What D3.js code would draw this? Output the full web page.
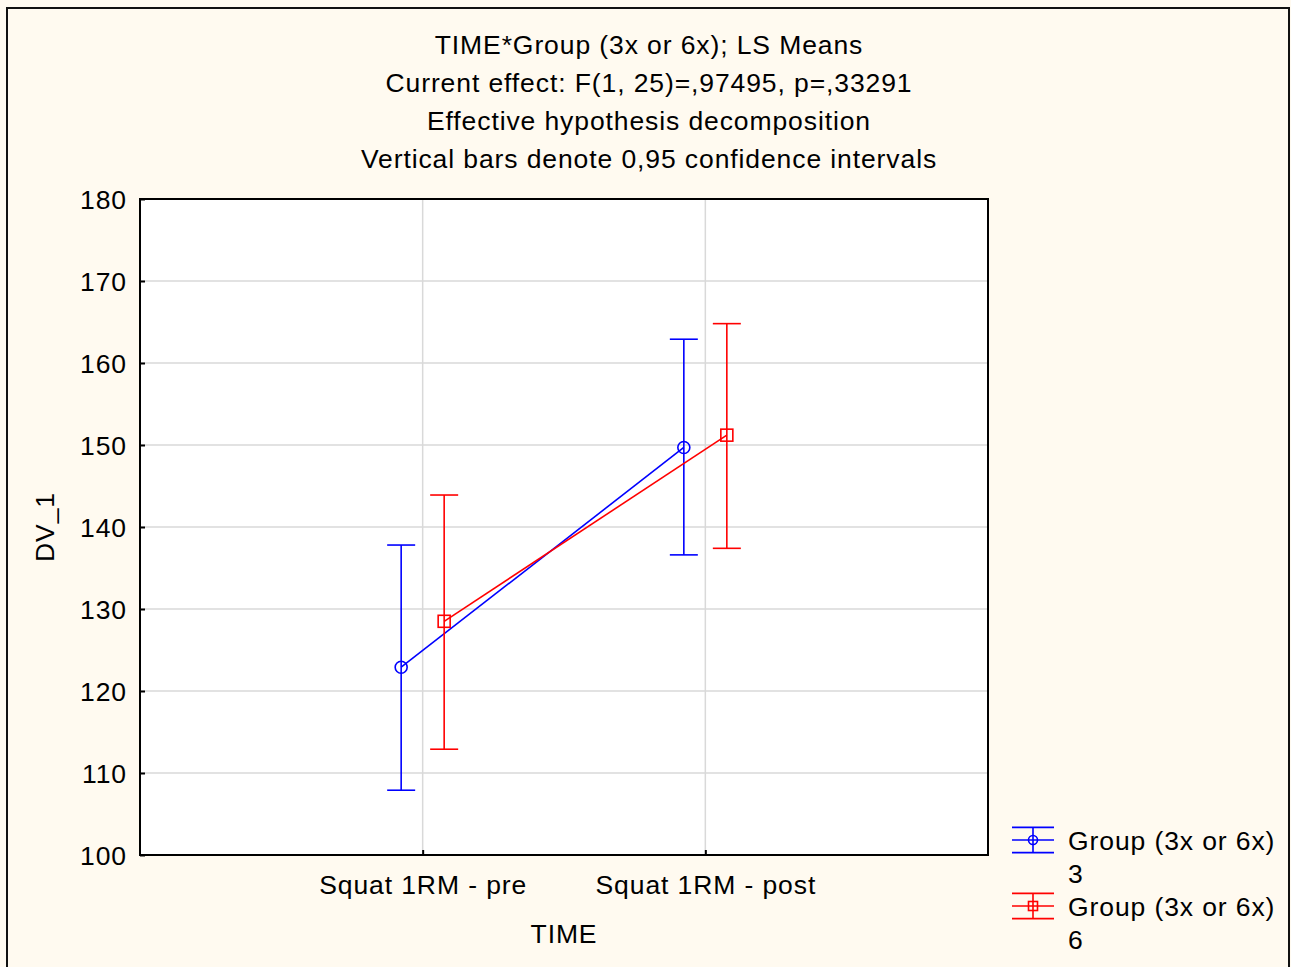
<!DOCTYPE html>
<html>
<head>
<meta charset="utf-8">
<script src="https://cdn.jsdelivr.net/npm/d3@7"></script>
<style>
  html, body { margin: 0; padding: 0; background: #fffaf0; }
  svg { display: block; }
  text { font-family: "Liberation Sans", Arial, sans-serif; fill: #000; letter-spacing: 0.9px; }
</style>
</head>
<body>
<script>
// ---- data ----
const categories = ["Squat 1RM - pre", "Squat 1RM - post"];
const groupNames = ["Group (3x or 6x)\n3", "Group (3x or 6x)\n6"];
const group3Mean = [122.9, 149.7];
const group3Low  = [107.9, 136.6];
const group3High = [137.8, 162.9];
const group6Mean = [128.5, 151.2];
const group6Low  = [112.9, 137.4];
const group6High = [143.9, 164.8];
const yTicks = [100, 110, 120, 130, 140, 150, 160, 170, 180];
const titleLines = [
  "TIME*Group (3x or 6x); LS Means",
  "Current effect: F(1, 25)=,97495, p=,33291",
  "Effective hypothesis decomposition",
  "Vertical bars denote 0,95 confidence intervals"
];

const FS = 26.5;
const W = 1291, H = 967;
const margin = { left: 140, top: 199, right: 988, bottom: 855 };
const svg = d3.select("body").append("svg").attr("width", W).attr("height", H);

// background & outer frame
svg.append("rect").attr("x", 0).attr("y", 0).attr("width", W).attr("height", H).attr("fill", "#fffaf0");
svg.append("path")
  .attr("d", `M7,${H + 5} V8 H1289 V${H + 5}`)
  .attr("fill", "none").attr("stroke", "#111").attr("stroke-width", 2);

// title
const title = svg.append("g");
titleLines.forEach((t, i) => {
  title.append("text").attr("x", 649).attr("y", 54 + i * 38)
    .attr("text-anchor", "middle").attr("font-size", FS).text(t);
});

// scales
const x = d3.scaleLinear().domain([0, 3]).range([margin.left, margin.right]);
const y = d3.scaleLinear().domain([100, 180]).range([margin.bottom, margin.top]);
const catPos = categories.map((c, i) => i + 1);

// plot area
svg.append("rect").attr("x", margin.left).attr("y", margin.top)
  .attr("width", margin.right - margin.left).attr("height", margin.bottom - margin.top)
  .attr("fill", "#fff");

// grid
const grid = svg.append("g").attr("stroke", "#d9d9d9").attr("stroke-width", 1.5);
yTicks.slice(1, -1).forEach(v => {
  grid.append("line").attr("x1", margin.left).attr("x2", margin.right)
    .attr("y1", y(v)).attr("y2", y(v));
});
catPos.forEach(p => {
  grid.append("line").attr("x1", x(p)).attr("x2", x(p))
    .attr("y1", margin.top).attr("y2", margin.bottom);
});

// axes
const yAxis = d3.axisLeft(y).tickValues(yTicks).tickSizeInner(-5).tickSizeOuter(0).tickPadding(13);
const gy = svg.append("g").attr("transform", `translate(${margin.left},0)`).call(yAxis);
gy.select(".domain").remove();
gy.selectAll("line").attr("stroke", "#000").attr("stroke-width", 2);
gy.selectAll("text").attr("font-size", FS).attr("font-family", "Liberation Sans, Arial, sans-serif").attr("dy", "0.35em");

const xAxis = d3.axisBottom(x).tickValues(catPos).tickFormat((d, i) => categories[i])
  .tickSizeInner(-5).tickSizeOuter(0).tickPadding(20);
const gx = svg.append("g").attr("transform", `translate(0,${margin.bottom})`).call(xAxis);
gx.select(".domain").remove();
gx.selectAll("line").attr("stroke", "#000").attr("stroke-width", 2);
gx.selectAll("text").attr("font-size", FS).attr("font-family", "Liberation Sans, Arial, sans-serif");

// plot frame
svg.append("rect").attr("x", margin.left).attr("y", margin.top)
  .attr("width", margin.right - margin.left).attr("height", margin.bottom - margin.top)
  .attr("fill", "none").attr("stroke", "#000").attr("stroke-width", 2);

// axis titles
svg.append("text").attr("x", (margin.left + margin.right) / 2).attr("y", 943)
  .attr("text-anchor", "middle").attr("font-size", FS).text("TIME");
svg.append("text").attr("transform", `translate(54,${(margin.top + margin.bottom) / 2}) rotate(-90)`)
  .attr("text-anchor", "middle").attr("font-size", FS).text("DV_1");

// series
const offsetPx = 21.5, capHalf = 14;
const series = [
  { mean: group3Mean, low: group3Low, high: group3High, color: "#0000ff", off: -offsetPx, marker: "circle" },
  { mean: group6Mean, low: group6Low, high: group6High, color: "#ff0000", off: offsetPx, marker: "square" }
];
const line = d3.line();
series.forEach(s => {
  const g = svg.append("g").attr("stroke", s.color).attr("fill", "none").attr("stroke-width", 1.6);
  const pts = catPos.map((p, i) => [x(p) + s.off, y(s.mean[i])]);
  // error bars
  catPos.forEach((p, i) => {
    const cx = x(p) + s.off;
    g.append("line").attr("x1", cx).attr("x2", cx).attr("y1", y(s.low[i])).attr("y2", y(s.high[i]));
    g.append("line").attr("x1", cx - capHalf).attr("x2", cx + capHalf).attr("y1", y(s.low[i])).attr("y2", y(s.low[i]));
    g.append("line").attr("x1", cx - capHalf).attr("x2", cx + capHalf).attr("y1", y(s.high[i])).attr("y2", y(s.high[i]));
  });
  g.append("path").attr("d", line(pts));
  pts.forEach(pt => {
    if (s.marker === "circle") {
      g.append("circle").attr("cx", pt[0]).attr("cy", pt[1]).attr("r", 6).attr("fill", "none");
    } else {
      g.append("rect").attr("x", pt[0] - 6).attr("y", pt[1] - 6).attr("width", 12).attr("height", 12).attr("fill", "none");
    }
  });
});

// legend
const legend = svg.append("g");
series.forEach((s, i) => {
  const cy = 840 + i * 66;
  const lg = legend.append("g").attr("stroke", s.color).attr("fill", "none").attr("stroke-width", 1.6);
  [-12.6, 0, 12.6].forEach(dy => {
    lg.append("line").attr("x1", 1012).attr("x2", 1054).attr("y1", cy + dy).attr("y2", cy + dy);
  });
  lg.append("line").attr("x1", 1033).attr("x2", 1033).attr("y1", cy - 12.6).attr("y2", cy + 12.6);
  if (s.marker === "circle") lg.append("circle").attr("cx", 1033).attr("cy", cy).attr("r", 4.5).attr("fill", "none");
  else lg.append("rect").attr("x", 1028.5).attr("y", cy - 4.5).attr("width", 9).attr("height", 9).attr("fill", "none");
  const parts = groupNames[i].split("\n");
  parts.forEach((t, j) => {
    legend.append("text").attr("x", 1068).attr("y", cy + 10 + j * 33).attr("font-size", FS).text(t);
  });
});
</script>
</body>
</html>
